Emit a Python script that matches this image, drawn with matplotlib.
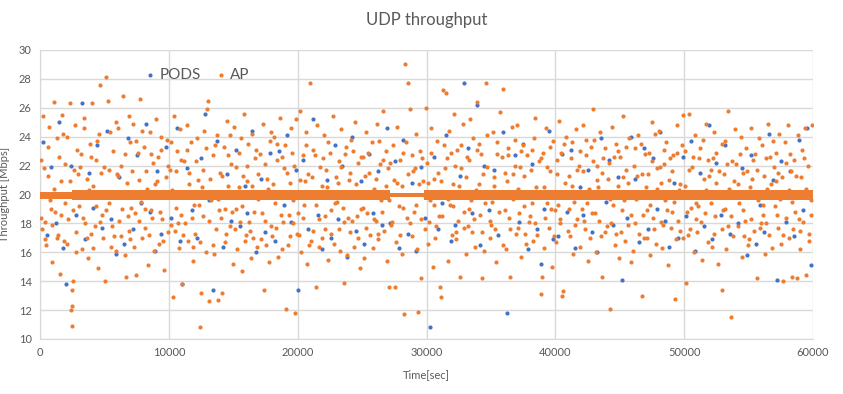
import matplotlib
matplotlib.use("Agg")
import matplotlib.pyplot as plt
import numpy as np

plt.rcParams['font.family'] = ['Lato', 'DejaVu Sans']

# AP samples (time in s, throughput in Mbps)
ap_x = [
    60, 150, 260, 380, 470, 590, 700, 820, 940,
    1050, 1180, 1300, 1390, 1520, 1610, 1740, 1850, 1960,
    2080, 2200, 2310, 2430, 2480, 2520, 2640, 2760, 2900, 2500, 2470,
    3040, 3150, 3280, 3390, 3500, 3630, 3720, 3850, 3960,
    4020, 4130, 4260, 4380, 4490, 4570, 4650, 4800, 4930,
    5050, 5120, 5280, 5390, 5500, 5640, 5760, 5870, 5960,
    6030, 6150, 6270, 6450, 6560, 6700, 6780, 6880, 6970,
    7010, 7120, 7250, 7380, 7470, 7600, 7760, 7850, 7950,
    8060, 8170, 8290, 8390, 8520, 8640, 8750, 8860, 8970,
    9030, 9160, 9260, 9370, 9480, 9620, 9740, 9850, 9950,
    10080, 10190, 10300, 10420, 10530, 10640, 10760, 10870, 10960,
    11040, 11150, 11270, 11380, 11490, 11600, 11720, 11840, 11930,
    12030, 12150, 12260, 12400, 12490, 12620, 12730, 12850, 12960,
    13040, 13150, 13280, 13400, 13510, 13620, 13740, 13850, 13960,
    14050, 14160, 14280, 14390, 14500, 14610, 14730, 14840, 14950,
    15070, 15180, 15300, 15410, 15520, 15640, 15750, 15860, 15970,
    16040, 16150, 16260, 16380, 16490, 16610, 16720, 16830, 16940,
    17060, 17170, 17290, 17400, 17500, 17630, 17740, 17850, 17960,
    18030, 18140, 18260, 18370, 18480, 18600, 18710, 18820, 18930,
    19050, 19100, 19270, 19380, 19490, 19600, 19720, 19800, 19950,
    20040, 20150, 20260, 20380, 20490, 20610, 20720, 20830, 20950,
    21030, 21150, 21270, 21400, 21500, 21620, 21740, 21850, 21960,
    22040, 22150, 22270, 22380, 22490, 22610, 22720, 22830, 22940,
    23060, 23170, 23290, 23400, 23600, 23630, 23740, 23850, 23960,
    24030, 24140, 24260, 24370, 24480, 24600, 24710, 24820, 24930,
    25050, 25160, 25280, 25390, 25500, 25610, 25730, 25840, 25950,
    26040, 26150, 26270, 26380, 26490, 26610, 26720, 26830, 26940,
    27030, 27100, 27270, 27380, 27570, 27610, 27740, 27850, 27960,
    28060, 28170, 28250, 28330, 28490, 28570, 28730, 28840, 28950,
    29040, 29150, 29270, 29350, 29490, 29610, 29740, 29850, 29960,
    30040, 30150, 30270, 30380, 30490, 30610, 30720, 30830, 30950,
    31050, 31150, 31300, 31500, 31590, 31700, 31740, 31850, 31960,
    32030, 32140, 32260, 32370, 32480, 32600, 32710, 32820, 32930,
    33050, 33160, 33280, 33390, 33500, 33610, 33730, 33840, 33950,
    34040, 34150, 34270, 34380, 34490, 34650, 34720, 34830, 34940,
    35030, 35150, 35270, 35380, 35500, 35610, 35740, 35900, 35960,
    36060, 36170, 36290, 36400, 36510, 36620, 36740, 36850, 36960,
    37030, 37140, 37260, 37370, 37480, 37600, 37710, 37820, 37930,
    38050, 38160, 38280, 38390, 38500, 38610, 38730, 38900, 38950,
    39040, 39150, 39270, 39380, 39490, 39610, 39720, 39830, 39950,
    40050, 40150, 40280, 40390, 40500, 40600, 40730, 40840, 40950,
    41030, 41140, 41260, 41370, 41480, 41600, 41710, 41820, 41930,
    42060, 42170, 42290, 42400, 42510, 42620, 42740, 42850, 42960,
    43030, 43140, 43260, 43370, 43480, 43600, 43710, 43820, 43930,
    44040, 44150, 44250, 44380, 44490, 44600, 44720, 44830, 44940,
    45050, 45160, 45280, 45390, 45500, 45620, 45730, 45840, 45950,
    46040, 46150, 46270, 46380, 46490, 46700, 46720, 46830, 46940,
    47030, 47140, 47260, 47370, 47480, 47600, 47710, 47820, 47930,
    48060, 48170, 48290, 48400, 48510, 48620, 48740, 48850, 48960,
    49030, 49140, 49300, 49370, 49480, 49600, 49710, 49820, 49930,
    50050, 50150, 50280, 50390, 50500, 50610, 50730, 50840, 50950,
    51030, 51140, 51260, 51370, 51480, 51600, 51710, 51820, 51930,
    52060, 52170, 52290, 52400, 52510, 52620, 52740, 52950, 52960,
    53030, 53140, 53260, 53370, 53480, 53600, 53710, 53820, 53930,
    54040, 54150, 54270, 54380, 54490, 54600, 54720, 54830, 54940,
    55050, 55160, 55280, 55390, 55500, 55620, 55730, 55840, 55950,
    56040, 56150, 56270, 56380, 56490, 56610, 56720, 56830, 56940,
    57030, 57140, 57260, 57370, 57480, 57600, 57710, 57820, 57930,
    58060, 58170, 58290, 58400, 58510, 58620, 58740, 58850, 58960,
    59030, 59140, 59260, 59370, 59480, 59600, 59710, 59820, 59930,
    # second pass, points inside the 16-24 cloud
    100, 330, 420, 640, 770, 910,
    1090, 1330, 1440, 1660, 1790, 1900,
    2120, 2350, 2580, 2700, 2830, 2950,
    3100, 3330, 3450, 3660, 3780, 3920,
    4080, 4310, 4420, 4620, 4750, 4880,
    5100, 5320, 5450, 5590, 5700, 5920,
    6090, 6320, 6400, 6620, 6830, 6920,
    7070, 7300, 7430, 7660, 7710, 7900,
    8110, 8240, 8460, 8590, 8700, 8920,
    9100, 9310, 9420, 9570, 9690, 9900,
    10130, 10250, 10470, 10590, 10710, 10920,
    11100, 11320, 11440, 11550, 11780, 11890,
    12100, 12320, 12440, 12560, 12680, 12900,
    13090, 13220, 13460, 13560, 13790, 13910,
    14100, 14330, 14450, 14560, 14780, 14900,
    15120, 15240, 15460, 15580, 15700, 15920,
    16090, 16200, 16430, 16550, 16780, 16890,
    17110, 17230, 17450, 17570, 17690, 17910,
    18090, 18310, 18420, 18540, 18760, 18870,
    19150, 19320, 19440, 19550, 19660, 19880,
    20090, 20200, 20430, 20550, 20670, 20890,
    21090, 21210, 21330, 21450, 21680, 21910,
    22090, 22200, 22330, 22550, 22670, 22890,
    23110, 23230, 23350, 23480, 23690, 23910,
    24080, 24200, 24320, 24550, 24660, 24880,
    25100, 25220, 25330, 25450, 25670, 25900,
    26090, 26210, 26330, 26550, 26660, 26890,
    27070, 27190, 27320, 27440, 27680, 27910,
    28110, 28210, 28390, 28530, 28680, 28900,
    29090, 29220, 29420, 29550, 29680, 29910,
    30090, 30210, 30330, 30550, 30660, 30890,
    31100, 31230, 31350, 31470, 31650, 31900,
    32080, 32200, 32320, 32540, 32660, 32880,
    33100, 33220, 33330, 33450, 33670, 33890,
    34090, 34210, 34330, 34550, 34670, 34890,
    35090, 35210, 35330, 35450, 35670, 35850,
    36110, 36230, 36350, 36460, 36680, 36900,
    37090, 37200, 37320, 37540, 37660, 37880,
    38100, 38220, 38340, 38450, 38670, 38850,
    39090, 39210, 39330, 39550, 39670, 39890,
    40100, 40220, 40340, 40450, 40670, 40890,
    41090, 41200, 41320, 41540, 41660, 41880,
    42110, 42230, 42350, 42460, 42680, 42900,
    43090, 43200, 43320, 43540, 43660, 43880,
    44090, 44210, 44330, 44550, 44670, 44890,
    45100, 45220, 45340, 45450, 45670, 45890,
    46090, 46210, 46330, 46550, 46660, 46890,
    47090, 47200, 47320, 47540, 47660, 47880,
    48110, 48230, 48350, 48460, 48680, 48900,
    49090, 49200, 49420, 49540, 49660, 49880,
    50100, 50220, 50340, 50450, 50670, 50890,
    51090, 51200, 51320, 51540, 51660, 51880,
    52110, 52230, 52350, 52460, 52680, 52900,
    53090, 53200, 53320, 53430, 53660, 53880,
    54090, 54210, 54330, 54550, 54670, 54890,
    55100, 55220, 55340, 55450, 55670, 55890,
    56090, 56210, 56330, 56440, 56660, 56880,
    57090, 57200, 57320, 57430, 57660, 57880,
    58110, 58230, 58350, 58460, 58680, 58900,
    59090, 59200, 59320, 59430, 59660, 59880,
]
ap_y = [
    22.4, 17.6, 25.4, 18.1, 16.5, 21.3, 24.7, 19.0, 15.3,
    26.4, 18.8, 23.9, 17.2, 14.5, 20.9, 25.5, 16.8, 22.1,
    24.0, 18.3, 26.3, 12.0, 10.9, 14.0, 21.7, 17.4, 23.1, 12.3, 13.4,
    19.2, 22.8, 16.2, 24.6, 18.0, 21.1, 15.6, 23.5, 17.3,
    26.3, 20.6, 17.8, 22.4, 14.9, 24.2, 27.6, 18.6, 21.9,
    14.0, 28.1, 26.5, 19.4, 16.4, 23.0, 17.1, 25.0, 21.4,
    24.6, 18.2, 22.0, 26.8, 15.8, 14.3, 20.8, 17.5, 23.6,
    16.9, 21.6, 24.9, 18.7, 14.4, 22.9, 26.6, 19.5, 17.0,
    23.3, 17.7, 20.4, 15.1, 24.3, 18.9, 22.2, 16.1, 25.2,
    19.8, 22.6, 16.6, 24.0, 18.3, 14.8, 21.2, 23.8, 17.4,
    21.7, 17.9, 12.9, 25.4, 19.1, 23.0, 16.3, 24.5, 18.6,
    13.8, 22.3, 18.0, 24.8, 16.8, 20.7, 23.6, 15.4, 19.3,
    17.3, 23.9, 21.0, 10.8, 13.2, 18.5, 24.4, 16.0, 25.9,
    26.5, 12.6, 19.6, 22.7, 15.9, 17.6, 24.1, 12.7, 21.5,
    18.4, 13.2, 23.3, 16.7, 25.1, 20.6, 17.8, 22.1, 15.2,
    24.7, 19.0, 16.2, 22.9, 18.1, 14.7, 21.3, 25.6, 17.2,
    20.9, 23.5, 17.5, 15.6, 24.2, 18.8, 22.5, 16.4, 19.7,
    22.8, 16.9, 24.9, 13.4, 18.2, 21.1, 15.3, 23.7, 17.8,
    17.1, 24.0, 19.4, 22.4, 15.7, 25.3, 18.6, 16.2, 21.8,
    23.4, 12.1, 16.5, 20.8, 24.6, 18.0, 22.0, 11.8, 17.3,
    18.7, 25.8, 16.0, 22.7, 19.3, 24.3, 15.2, 21.4, 27.7,
    16.8, 23.1, 19.9, 13.6, 24.8, 18.3, 21.9, 17.0, 22.5,
    24.1, 17.6, 20.5, 15.5, 22.9, 18.9, 25.4, 16.6, 21.2,
    19.5, 22.3, 16.1, 24.5, 13.9, 18.1, 23.3, 15.8, 21.0,
    17.4, 23.8, 20.2, 16.4, 25.0, 18.5, 22.2, 14.9, 19.0,
    22.6, 15.6, 24.3, 18.7, 21.5, 17.2, 23.6, 16.3, 20.4,
    18.2, 24.9, 16.9, 22.1, 19.6, 25.8, 17.5, 23.0, 15.4,
    21.8, 13.6, 17.9, 23.4, 13.6, 16.7, 24.7, 19.2, 22.4,
    15.9, 22.9, 11.7, 29.0, 18.4, 27.7, 25.9, 17.1, 21.6,
    18.8, 24.2, 16.2, 11.9, 23.0, 14.2, 20.9, 17.6, 26.0,
    22.2, 16.6, 19.6, 24.6, 15.0, 21.1, 17.8, 23.7, 18.5,
    13.6, 12.9, 27.2, 27.0, 22.5, 15.4, 24.4, 19.3, 17.2,
    20.7, 25.6, 16.9, 23.1, 18.2, 14.3, 21.8, 24.9, 17.7,
    15.9, 22.6, 19.0, 25.2, 17.4, 23.9, 16.4, 20.3, 26.4,
    23.5, 18.6, 14.2, 21.4, 16.1, 27.7, 24.1, 19.8, 17.0,
    17.9, 24.3, 20.6, 15.3, 22.8, 18.8, 25.7, 27.3, 16.5,
    21.5, 16.2, 23.2, 18.4, 14.3, 24.7, 19.7, 22.0, 17.3,
    24.8, 17.7, 21.9, 15.7, 23.4, 19.2, 16.6, 22.7, 18.1,
    18.5, 23.1, 16.8, 25.3, 20.5, 17.2, 22.3, 13.1, 14.3,
    22.9, 16.3, 24.6, 19.4, 17.7, 21.6, 15.0, 23.7, 18.9,
    16.7, 22.4, 25.1, 18.0, 13.0, 13.3, 20.8, 24.0, 17.5,
    21.3, 17.1, 23.6, 15.9, 19.5, 24.5, 18.3, 22.0, 16.4,
    19.0, 24.8, 17.6, 22.7, 15.4, 20.4, 23.3, 18.7, 25.9,
    23.8, 16.0, 21.0, 18.2, 24.3, 14.3, 22.5, 17.4, 19.9,
    17.8, 22.2, 12.1, 24.7, 19.3, 16.5, 23.5, 20.6, 15.6,
    22.6, 18.9, 25.4, 16.8, 21.7, 17.9, 23.9, 15.3, 20.1,
    16.1, 23.2, 19.7, 24.1, 17.3, 13.0, 21.4, 18.6, 22.8,
    20.5, 17.0, 22.9, 15.8, 25.0, 18.4, 24.2, 16.6, 21.8,
    24.4, 18.1, 16.3, 22.1, 19.6, 23.6, 15.1, 21.0, 17.7,
    18.8, 22.7, 12.8, 16.9, 24.8, 20.3, 17.5, 23.4, 25.5,
    23.0, 13.9, 17.2, 25.6, 19.1, 21.9, 16.0, 24.1, 18.3,
    17.4, 22.5, 20.0, 15.5, 23.8, 18.7, 24.9, 16.7, 21.3,
    21.7, 16.4, 24.3, 18.5, 22.9, 15.2, 19.8, 13.4, 17.6,
    18.9, 23.7, 16.2, 25.8, 20.4, 11.5, 22.3, 17.1, 24.5,
    22.1, 17.8, 19.4, 24.0, 15.7, 21.5, 18.2, 23.2, 16.5,
    16.9, 24.6, 21.1, 17.5, 22.8, 14.2, 19.6, 23.9, 18.0,
    23.4, 18.6, 15.9, 22.5, 24.9, 17.2, 20.7, 16.3, 21.9,
    19.2, 22.9, 17.7, 24.2, 16.6, 21.2, 14.0, 23.6, 18.4,
    24.8, 17.0, 21.6, 14.3, 22.4, 18.8, 14.2, 24.1, 16.2,
    17.5, 23.1, 19.9, 24.6, 14.4, 22.0, 16.8, 18.6, 24.8,
    # second pass
    18.4, 21.8, 16.9, 23.3, 19.6, 17.9,
    20.4, 17.0, 22.6, 18.6, 24.2, 19.4,
    16.6, 20.9, 18.9, 24.8, 16.0, 21.4,
    21.9, 18.4, 25.3, 17.0, 20.3, 22.6,
    16.3, 19.2, 23.7, 18.1, 21.5, 17.0,
    18.9, 21.7, 24.3, 17.8, 20.2, 16.1,
    21.3, 17.1, 19.0, 22.8, 18.5, 25.4,
    19.1, 16.4, 23.7, 18.2, 21.0, 24.4,
    19.0, 21.6, 17.2, 22.8, 18.4, 20.7,
    20.9, 18.8, 23.1, 16.8, 19.9, 22.0,
    23.6, 20.3, 17.5, 21.6, 18.0, 22.4,
    17.2, 19.8, 23.1, 21.5, 18.4, 16.4,
    22.3, 19.3, 16.7, 20.5, 21.7, 23.2,
    18.2, 21.1, 16.5, 23.4, 19.7, 18.9,
    21.3, 19.0, 17.3, 22.7, 24.1, 18.8,
    17.6, 21.9, 20.5, 23.9, 19.2, 16.8,
    22.0, 18.1, 20.6, 17.0, 23.1, 21.4,
    19.9, 18.7, 22.1, 16.5, 20.4, 24.3,
    20.7, 17.7, 23.5, 19.8, 22.6, 18.1,
    21.5, 18.6, 17.1, 22.9, 19.6, 25.2,
    17.2, 21.0, 18.4, 20.9, 23.4, 16.5,
    21.2, 17.5, 22.7, 19.3, 16.4, 20.6,
    18.5, 21.7, 23.6, 17.3, 20.2, 19.4,
    20.8, 17.6, 21.9, 19.1, 22.8, 18.4,
    21.5, 18.2, 23.0, 20.7, 17.0, 22.6,
    19.1, 21.3, 17.7, 22.9, 20.0, 18.3,
    21.1, 17.3, 23.7, 18.8, 22.4, 20.6,
    19.6, 22.2, 18.1, 21.0, 20.8, 17.2,
    20.6, 19.1, 23.6, 21.4, 18.0, 22.7,
    21.8, 19.3, 20.7, 18.3, 22.5, 19.9,
    20.8, 18.1, 22.9, 19.3, 17.0, 21.5,
    20.9, 18.5, 23.4, 21.8, 19.7, 22.9,
    19.2, 22.0, 17.4, 20.6, 23.4, 18.8,
    21.2, 17.8, 22.4, 19.6, 18.3, 23.1,
    20.7, 22.8, 17.4, 19.4, 21.9, 18.2,
    19.5, 21.2, 17.6, 23.6, 20.1, 22.6,
    18.9, 20.9, 22.7, 17.6, 21.4, 23.8,
    20.4, 18.7, 23.0, 21.3, 17.3, 19.9,
    21.7, 19.4, 23.9, 18.0, 20.1, 22.5,
    20.5, 18.4, 21.9, 23.3, 19.0, 17.1,
    21.4, 19.3, 18.3, 22.9, 23.5, 19.8,
    19.0, 22.5, 20.6, 17.9, 21.7, 23.0,
    21.6, 18.2, 23.8, 19.4, 17.0, 22.3,
    18.7, 22.0, 20.5, 17.1, 21.5, 23.2,
    21.1, 19.7, 18.0, 22.6, 17.3, 23.0,
    17.4, 21.2, 19.6, 23.3, 20.8, 18.6,
    22.0, 18.0, 21.3, 20.1, 23.5, 17.0,
    18.9, 21.4, 19.3, 22.3, 17.6, 20.4,
    21.9, 20.8, 17.9, 23.1, 18.9, 22.5,
    21.6, 19.5, 22.9, 18.2, 20.7, 17.0,
    20.6, 18.8, 21.7, 17.6, 22.6, 19.4,
    19.2, 23.2, 18.1, 21.1, 20.3, 22.4,
    19.4, 22.5, 17.3, 20.8, 21.6, 23.5,
    21.4, 19.0, 22.1, 17.8, 18.5, 20.9,
    19.9, 20.7, 22.8, 18.9, 17.1, 21.6,
    20.5, 18.3, 22.4, 19.8, 21.7, 17.7,
    19.3, 21.3, 18.0, 20.4, 22.6, 23.7,
    20.9, 18.6, 21.5, 19.7, 17.2, 22.2,
    20.3, 22.8, 19.5, 17.6, 21.3, 18.3,
    21.2, 18.1, 22.5, 20.4, 17.3, 19.6,
]

# PODS samples
pods_x = [
    200, 550, 850, 1200, 1500, 1800, 2000, 2400, 2800, 3260, 3500, 3800,
    4100, 4400, 4800, 5200, 5500, 5900, 6100, 6500, 6850, 7200, 7500, 7800,
    8200, 8550, 8900, 9100, 9400, 9800, 10200, 10600, 10900, 11000, 11400, 11800,
    12200, 12500, 12800, 13100, 13400, 13700, 14200, 14500, 14850, 15200, 15550, 15900,
    16100, 16450, 16800, 17150, 17500, 17850, 18200, 18550, 18900, 19200, 19500, 19850,
    20050, 20400, 20800, 21200, 21550, 21900, 22250, 22600, 22900, 23100, 23450, 23800,
    24200, 24550, 24900, 25150, 25500, 25850, 26200, 26550, 26900, 27200, 27550, 27900,
    28200, 28550, 28900, 29200, 29550, 29900, 30270, 30600, 30900, 31200, 31550, 31900,
    32200, 32600, 32900, 33200, 33550, 33900, 34150, 34500, 34850, 35200, 35550, 35900,
    36250, 36550, 36900, 37150, 37500, 37850, 38200, 38550, 38900, 39150, 39500, 39850,
    40200, 40550, 40900, 41200, 41550, 41900, 42150, 42500, 42850, 43200, 43550, 43900,
    44150, 44500, 44850, 45200, 45550, 45900, 46150, 46500, 46850, 47200, 47550, 47900,
    48150, 48500, 48850, 49200, 49550, 49900, 50150, 50500, 50850, 51200, 51550, 51900,
    52150, 52500, 52850, 53200, 53550, 53900, 54150, 54500, 54850, 55200, 55550, 55900,
    56200, 56550, 56900, 57200, 57550, 57900, 58200, 58550, 58900, 59200, 59550, 59850,
]
pods_y = [
    23.6, 17.2, 21.9, 18.0, 25.0, 16.3, 13.8, 22.0, 18.6, 26.3, 16.9, 21.5,
    19.1, 23.4, 17.7, 24.4, 18.3, 15.9, 21.2, 16.6, 23.9, 17.6, 22.7, 19.4,
    24.9, 18.8, 16.1, 21.6, 17.3, 23.3, 18.4, 24.6, 16.8, 13.8, 21.8, 18.9,
    17.0, 22.5, 25.6, 19.6, 13.4, 23.7, 16.4, 21.4, 18.2, 23.1, 17.8, 20.6,
    18.7, 24.4, 16.0, 21.1, 17.4, 22.9, 16.8, 23.0, 19.3, 24.1, 18.1, 21.7,
    13.4, 22.4, 17.6, 25.2, 18.6, 16.2, 21.0, 17.0, 23.4, 18.3, 22.0, 15.7,
    24.0, 17.5, 20.9, 16.6, 22.8, 18.7, 21.6, 17.9, 24.6, 18.0, 22.3, 16.3,
    23.8, 17.3, 20.8, 16.1, 21.9, 18.4, 10.8, 22.6, 17.6, 19.4, 24.1, 16.8,
    17.9, 21.3, 27.7, 23.2, 18.7, 26.2, 16.5, 22.0, 18.9, 21.7, 17.2, 24.3,
    11.8, 19.9, 22.7, 18.1, 23.5, 16.2, 22.1, 17.6, 15.2, 19.0, 24.4, 16.9,
    17.1, 22.8, 18.8, 23.1, 16.3, 20.5, 18.6, 21.7, 17.4, 16.0, 23.9, 19.5,
    22.4, 17.9, 21.2, 14.1, 18.4, 24.0, 21.1, 16.7, 23.2, 17.6, 22.5, 19.0,
    24.3, 18.2, 16.4, 20.8, 17.0, 22.6, 18.5, 23.7, 16.1, 21.5, 17.8, 24.8,
    16.9, 22.2, 18.6, 23.4, 17.3, 20.2, 18.0, 21.8, 15.8, 22.7, 16.6, 19.3,
    17.4, 24.2, 21.0, 14.1, 22.3, 18.1, 21.6, 17.1, 23.8, 18.9, 24.6, 15.1,
]

# dense steady-rate band of AP samples around 20 Mbps: (start, end, low, high)
band_start = [0, 2500, 27200, 29800]
band_end = [2500, 27200, 29800, 60000]
band_low = [19.7, 19.65, 19.8, 19.62]
band_high = [20.2, 20.3, 20.1, 20.33]

orange = '#ED7D31'
blue = '#4472C4'
grid = '#D9D9D9'
txt = '#595959'

fig = plt.figure(figsize=(8.43, 3.94), dpi=100)
ax = fig.add_axes([0.0475, 0.1396, 0.9169, 0.7335])

ax.scatter(pods_x, pods_y, s=9, color=blue, linewidths=0, zorder=3, label='PODS')
ax.scatter(ap_x, ap_y, s=9, color=orange, linewidths=0, zorder=3, label='AP')
for x0, x1, lo, hi in zip(band_start, band_end, band_low, band_high):
    ax.fill_between([x0, x1], [lo, lo], [hi, hi], color=orange, linewidth=0, zorder=4)

ax.set_xlim(0, 60000)
ax.set_ylim(10, 30)
ax.set_xticks(np.arange(0, 60001, 10000))
ax.set_yticks(np.arange(10, 31, 2))
ax.grid(True, color=grid, linewidth=1)
ax.set_axisbelow(True)
for side in ['top', 'right']:
    ax.spines[side].set_visible(False)
for side in ['left', 'bottom']:
    ax.spines[side].set_color(grid)
ax.tick_params(length=0, labelsize=8, colors=txt, pad=6)

ax.set_title('UDP throughput', fontsize=12, color=txt, pad=18)
ax.set_xlabel('Time[sec]', fontsize=8, color=txt, labelpad=8)
ax.set_ylabel('Throughput [Mbps]', fontsize=8, color=txt, labelpad=6)

leg = ax.legend(ncol=2, loc='upper left', bbox_to_anchor=(0.125, 0.96), frameon=False,
                fontsize=11, markerscale=1.0, handletextpad=0.1, columnspacing=0.8,
                handlelength=1.0, borderaxespad=0)
for t in leg.get_texts():
    t.set_color(txt)

fig.savefig('out.png', dpi=100)
